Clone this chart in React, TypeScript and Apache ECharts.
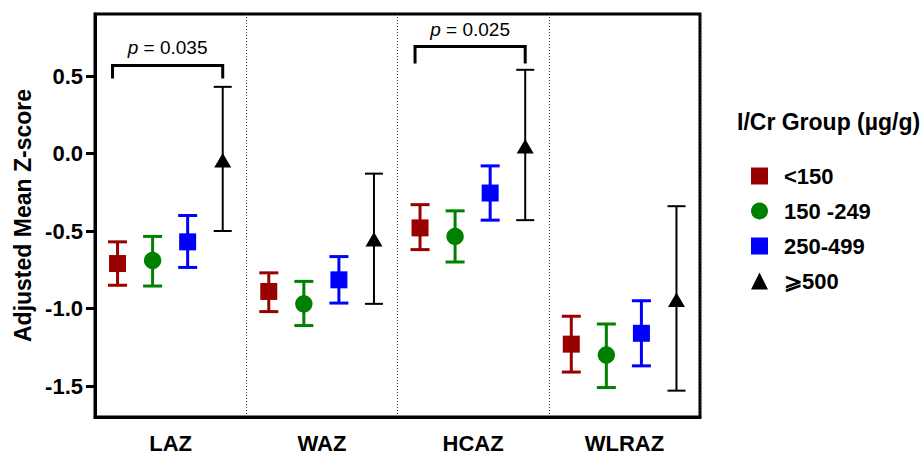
import React, { useEffect, useRef } from 'react';
import * as echarts from 'echarts';

const categories = ['LAZ', 'WAZ', 'HCAZ', 'WLRAZ'];
const groupNames = ['<150', '150 -249', '250-499', '⩾500'];

// Adjusted mean Z-scores with lower / upper error bar ends, per I/Cr group
const meanLt150 = [-0.71, -0.89, -0.48, -1.23];
const lowLt150 = [-0.85, -1.02, -0.62, -1.41];
const highLt150 = [-0.57, -0.77, -0.33, -1.05];

const mean150to249 = [-0.69, -0.97, -0.535, -1.3];
const low150to249 = [-0.855, -1.11, -0.7, -1.51];
const high150to249 = [-0.535, -0.825, -0.37, -1.1];

const mean250to499 = [-0.57, -0.815, -0.255, -1.16];
const low250to499 = [-0.735, -0.965, -0.43, -1.37];
const high250to499 = [-0.4, -0.665, -0.08, -0.95];

const meanGe500 = [-0.045, -0.555, 0.045, -0.945];
const lowGe500 = [-0.5, -0.97, -0.43, -1.53];
const highGe500 = [0.43, -0.13, 0.54, -0.34];

const yTicks = [-1.5, -1.0, -0.5, 0.0, 0.5];

// significance brackets
const pCats = [0, 2];
const pLabels = ['0.035', '0.025'];
const pLevels = [0.568, 0.69];
const pDrops = [0.484, 0.58];

const FONT = 'Arial, "Liberation Sans", Helvetica, sans-serif';
const colors = ['#990000', '#008000', '#0000ff', '#000000'];
const shapes = ['rect', 'circle', 'rect', 'triangle'];

function groupData(m: number[], lo: number[], hi: number[]) {
  return m.map((v, i) => [i, v, lo[i], hi[i]]);
}

const groups = [
  groupData(meanLt150, lowLt150, highLt150),
  groupData(mean150to249, low150to249, high150to249),
  groupData(mean250to499, low250to499, high250to499),
  groupData(meanGe500, lowGe500, highGe500),
];

const OFFSET_FRAC = 0.2318;

function makeRender(gi: number) {
  const lineW = gi === 3 ? 2 : 3;
  const capHalf = gi === 3 ? 9 : 9.5;
  return (params: any, api: any) => {
    const cat = api.value(0);
    const c = api.coord([cat, api.value(1)]);
    const band = api.size([1, 0])[0];
    const x = c[0] + (gi - 1.5) * band * OFFSET_FRAC - 0.5;
    const y = c[1];
    const yLo = api.coord([cat, api.value(2)])[1];
    const yHi = api.coord([cat, api.value(3)])[1];
    const color = colors[gi];
    const ls = { stroke: color, lineWidth: lineW };
    const children: any[] = [
      { type: 'line', shape: { x1: x, y1: yHi, x2: x, y2: yLo }, style: ls },
      { type: 'line', shape: { x1: x - capHalf, y1: yHi, x2: x + capHalf, y2: yHi }, style: ls },
      { type: 'line', shape: { x1: x - capHalf, y1: yLo, x2: x + capHalf, y2: yLo }, style: ls },
    ];
    const s = shapes[gi];
    if (s === 'rect') {
      children.push({ type: 'rect', shape: { x: x - 8.5, y: y - 8.5, width: 17, height: 17 }, style: { fill: color } });
    } else if (s === 'circle') {
      children.push({ type: 'circle', shape: { cx: x, cy: y, r: 8.7 }, style: { fill: color } });
    } else {
      children.push({ type: 'polygon', shape: { points: [[x, y - 7.5], [x + 8.5, y + 7], [x - 8.5, y + 7]] }, style: { fill: color } });
    }
    return { type: 'group', children };
  };
}

function renderBracket(params: any, api: any) {
  const cat = api.value(0);
  const band = api.size([1, 0])[0];
  const c = api.coord([cat, api.value(1)]);
  const yDrop = api.coord([cat, api.value(2)])[1];
  const x1 = c[0] - 1.5 * band * OFFSET_FRAC - 0.5 - 5;
  const x2 = c[0] + 1.5 * band * OFFSET_FRAC - 0.5;
  const y = c[1];
  const label = pLabels[params.dataIndex];
  return {
    type: 'group',
    children: [
      {
        type: 'polyline',
        shape: { points: [[x1, yDrop], [x1, y], [x2, y], [x2, yDrop]] },
        style: { stroke: '#000', lineWidth: 3, fill: 'none' },
      },
      {
        type: 'text',
        style: {
          x: (x1 + x2) / 2,
          y: y - 8,
          text: '{i|p} = ' + label,
          align: 'center',
          verticalAlign: 'bottom',
          fontSize: 19,
          fontFamily: FONT,
          fill: '#000',
          rich: { i: { fontStyle: 'italic', fontSize: 19, fontFamily: FONT, fill: '#000' } },
        },
      },
    ],
  };
}

export default function App() {
  const ref = useRef<HTMLDivElement>(null);
  useEffect(() => {
    document.body.style.margin = '0';
    const chart = echarts.init(ref.current!, null, { renderer: 'svg' });
    const option: any = {
      animation: false,
      color: colors,
      grid: {
        left: 95, right: 224, top: 14, bottom: 39,
        show: true, borderColor: '#000', borderWidth: 3,
      },
      xAxis: {
        type: 'category',
        data: categories,
        axisLine: { onZero: false, lineStyle: { color: '#000', width: 3 } },
        axisTick: { show: false },
        axisLabel: { color: '#000', fontSize: 22, fontWeight: 'bold', fontFamily: FONT, margin: 15 },
        splitLine: { show: true, interval: 0, lineStyle: { type: [1, 2], color: '#333', width: 1 } },
      },
      yAxis: {
        type: 'value',
        min: -1.7,
        max: 0.9,
        name: 'Adjusted Mean Z-score',
        nameLocation: 'middle',
        nameGap: 60,
        nameTextStyle: { color: '#000', fontSize: 23, fontWeight: 'bold', fontFamily: FONT },
        axisLine: { show: true, lineStyle: { color: '#000', width: 3 } },
        axisTick: { show: true, customValues: yTicks, length: 9, lineStyle: { color: '#000', width: 3 } },
        axisLabel: {
          customValues: yTicks,
          formatter: (v: number) => v.toFixed(1),
          color: '#000', fontSize: 22, fontWeight: 'bold', fontFamily: FONT, margin: 12,
        },
        splitLine: { show: false },
      },
      legend: {
        orient: 'vertical',
        left: 746,
        top: 160,
        itemWidth: 17,
        itemHeight: 17,
        itemGap: 13,
        data: groupNames.map((n, i) => ({ name: n, icon: shapes[i] })),
        textStyle: { color: '#000', fontSize: 22, fontWeight: 'bold', fontFamily: FONT, padding: [0, 0, 0, 11] },
      },
      graphic: [
        {
          type: 'text',
          left: 737,
          top: 110,
          style: { text: 'I/Cr Group (µg/g)', fontSize: 23, fontWeight: 'bold', fontFamily: FONT, fill: '#000' },
        },
      ],
      series: [
        ...groups.map((d, gi) => ({
          type: 'custom',
          name: groupNames[gi],
          data: d,
          encode: { x: 0, y: [1, 2, 3] },
          itemStyle: { color: colors[gi] },
          renderItem: makeRender(gi),
          z: 3,
        })),
        {
          type: 'custom',
          name: 'brackets',
          data: pCats.map((c, i) => [c, pLevels[i], pDrops[i]]),
          encode: { x: 0, y: [1, 2] },
          renderItem: renderBracket,
          z: 4,
        },
      ],
    };
    chart.setOption(option);
    return () => chart.dispose();
  }, []);
  return <div ref={ref} style={{ width: 924, height: 456 }} />;
}
